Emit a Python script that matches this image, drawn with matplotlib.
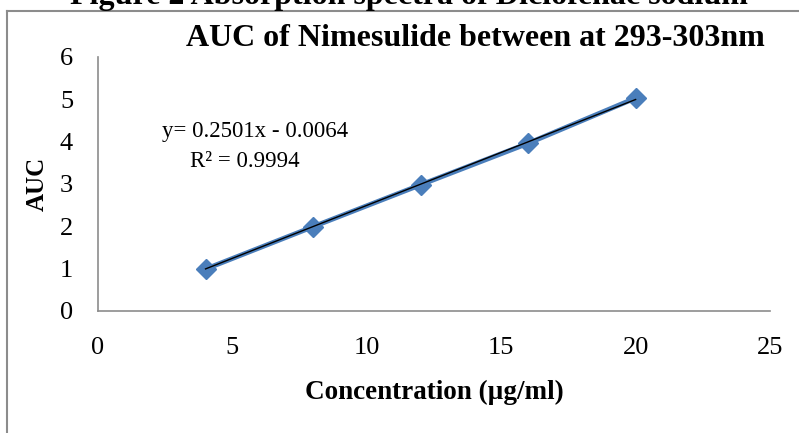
import numpy as np
import matplotlib.pyplot as plt
from matplotlib.lines import Line2D

# data
conc = [4, 8, 12, 16, 20]
auc = [0.99, 1.99, 2.98, 3.96, 5.03]
x_ticks = [0, 5, 10, 15, 20, 25]
y_ticks = [0, 1, 2, 3, 4, 5, 6]

plt.rcParams['font.family'] = ['Liberation Serif', 'DejaVu Serif']

fig = plt.figure(figsize=(7.99, 4.33), dpi=100)
ax = fig.add_axes([0.1227, 0.2818, 0.8410, 0.5866])

# outer chart frame (cropped in the original)
fig.add_artist(Line2D([7/799, 7/799], [0, 1 - 11/433], transform=fig.transFigure,
                      color='#8c8c8c', lw=1.5))
fig.add_artist(Line2D([7/799, 1], [1 - 11/433, 1 - 11/433], transform=fig.transFigure,
                      color='#8c8c8c', lw=1.5))

# series + linear trendline
ax.plot(conc, auc, color='#4a7ebb', lw=3.5, marker='D', markersize=10,
        markerfacecolor='#4a7ebb', markeredgecolor='#4a7ebb', zorder=3)
m, b = 0.2501, -0.0064
xs = np.array([conc[0], conc[-1]])
ax.plot(xs, m * xs + b, color='black', lw=1.0, zorder=4)

ax.set_xlim(0, 25)
ax.set_ylim(0, 6)
ax.set_xticks(x_ticks)
ax.set_yticks(y_ticks)
ax.tick_params(length=0, labelsize=19)
ax.tick_params(axis='x', pad=19)
ax.tick_params(axis='y', pad=18)
for s in ['top', 'right']:
    ax.spines[s].set_visible(False)
for s in ['left', 'bottom']:
    ax.spines[s].set_color('#8c8c8c')
    ax.spines[s].set_linewidth(1.2)

ax.text(2.38, 4.25, 'y= 0.2501x - 0.0064', fontsize=16.5, ha='left', va='center')
ax.text(3.42, 3.54, 'R² = 0.9994', fontsize=16.5, ha='left', va='center')

ax.set_xlabel('Concentration (µg/ml)', fontsize=19.5, fontweight='bold', labelpad=15)
ax.set_ylabel('AUC', fontsize=18, fontweight='bold', va='center')
ax.yaxis.set_label_coords(-0.091, 0.5)

fig.text(475/799, 1 - 38/433, 'AUC of Nimesulide between at 293-303nm',
         fontsize=23, fontweight='bold', ha='center', va='center')
fig.text(409/799, 1 - 4/433, 'Figure 2 Absorption spectra of Diclofenac sodium',
         fontsize=23, fontweight='bold', ha='center', va='baseline')

fig.savefig('out.png', dpi=100)
